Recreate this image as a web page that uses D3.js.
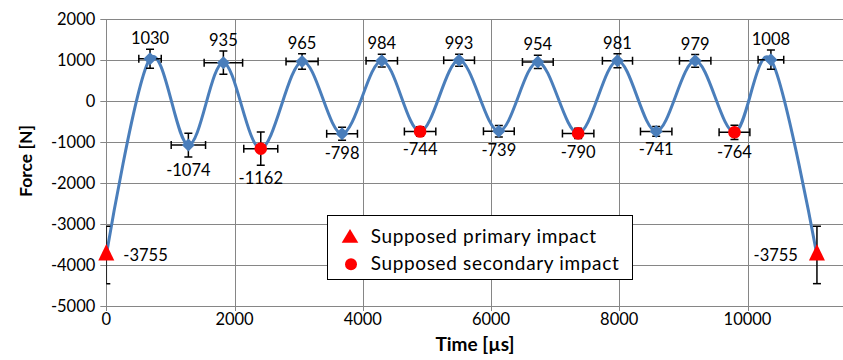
<!DOCTYPE html>
<html>
<head>
<meta charset="utf-8">
<script src="https://cdn.jsdelivr.net/npm/d3@7"></script>
<style>
  body { margin: 0; background: #fff; }
  svg text { font-family: Lato, "Open Sans", sans-serif; fill: #000; }
</style>
</head>
<body>
<svg id="chart" width="843" height="360"></svg>
<script>
// time of each peak / trough (µs) and measured force (N)
const times = [0, 682, 1280, 1826, 2409, 3053, 3677, 4296, 4894, 5502, 6122, 6730, 7359, 7972, 8576, 9184, 9797, 10365, 11083];
const forces = [-3755, 1030, -1074, 935, -1162, 965, -798, 984, -744, 993, -739, 954, -790, 981, -741, 979, -764, 1008, -3755];
const kinds = ["primary", "peak", "peak", "peak", "secondary", "peak", "peak", "peak", "secondary", "peak", "peak", "peak", "secondary", "peak", "peak", "peak", "secondary", "peak", "primary"];
const timeErr = [0, 175, 268, 300, 265, 250, 240, 245, 245, 240, 240, 240, 245, 235, 245, 245, 240, 200, 0];
const forceErr = [700, 230, 290, 285, 405, 190, 160, 155, 115, 145, 140, 160, 125, 170, 120, 155, 175, 235, 700];

const xTicks = [0, 2000, 4000, 6000, 8000, 10000];
const yTicks = [2000, 1000, 0, -1000, -2000, -3000, -4000, -5000];
const legendLabels = ["Supposed primary impact", "Supposed secondary impact"];

const blue = "#4a7ebb";
const red = "#ff0000";
const grid = "#868686";

var svg = d3.select("#chart");
var W = 843;
var plotLeft = 106.3, plotTop = 19, plotBottom = 306;

var x = d3.scaleLinear().domain([0, 12000]).range([plotLeft, plotLeft + 12 * 64.12]);
var y = d3.scaleLinear().domain([-5000, 2000]).range([plotBottom, plotTop]);

var points = times.map(function (t, i) {
  return { t: t, f: forces[i], kind: kinds[i], et: timeErr[i], ef: forceErr[i], i: i };
});

svg.append("defs").append("clipPath").attr("id", "plot")
  .append("rect").attr("x", plotLeft).attr("y", plotTop - 10)
  .attr("width", W - plotLeft).attr("height", plotBottom - plotTop + 20);

// gridlines
var g = svg.append("g");
g.selectAll("line.h").data(yTicks).enter().append("line")
  .attr("x1", plotLeft - 6).attr("x2", W)
  .attr("y1", function (d) { return Math.round(y(d)) + 0.5; })
  .attr("y2", function (d) { return Math.round(y(d)) + 0.5; })
  .attr("stroke", grid).attr("stroke-width", 1);
g.selectAll("line.v").data(xTicks).enter().append("line")
  .attr("y1", plotTop).attr("y2", plotBottom + 5)
  .attr("x1", function (d) { return Math.round(x(d)) + 0.5; })
  .attr("x2", function (d) { return Math.round(x(d)) + 0.5; })
  .attr("stroke", grid).attr("stroke-width", 1);

// tick labels
g.selectAll("text.y").data(yTicks).enter().append("text")
  .attr("x", plotLeft - 11).attr("y", function (d) { return y(d); })
  .attr("dy", "0.36em").attr("text-anchor", "end")
  .style("font-size", "16.5px")
  .text(function (d) { return d; });
g.selectAll("text.x").data(xTicks).enter().append("text")
  .attr("x", function (d) { return x(d); }).attr("y", 325)
  .attr("text-anchor", "middle")
  .style("font-size", "16.5px")
  .text(function (d) { return d; });

// axis titles
svg.append("text")
  .attr("transform", "translate(32,161) rotate(-90)")
  .attr("text-anchor", "middle")
  .style("font-size", "17.5px").style("font-weight", "bold")
  .text("Force [N]");
svg.append("text")
  .attr("x", 475).attr("y", 351)
  .attr("text-anchor", "middle")
  .style("font-size", "19px").style("font-weight", "bold")
  .text("Time [µs]");

// smoothed line
var line = d3.line()
  .x(function (d) { return x(d.t); })
  .y(function (d) { return y(d.f); })
  .curve(d3.curveCatmullRom.alpha(0));
svg.append("path").datum(points)
  .attr("d", line)
  .attr("fill", "none").attr("stroke", blue).attr("stroke-width", 3);

// error bars
var eb = svg.append("g").attr("clip-path", "url(#plot)")
  .attr("stroke", "#000").attr("stroke-width", 1.5);
var cap = 4;
points.forEach(function (d) {
  var cx = x(d.t), cy = y(d.f);
  if (d.ef) {
    var y1 = y(d.f + d.ef), y2 = y(d.f - d.ef);
    eb.append("line").attr("x1", cx).attr("x2", cx).attr("y1", y1).attr("y2", y2);
    eb.append("line").attr("x1", cx - cap).attr("x2", cx + cap).attr("y1", y1).attr("y2", y1);
    eb.append("line").attr("x1", cx - cap).attr("x2", cx + cap).attr("y1", y2).attr("y2", y2);
  }
  if (d.et) {
    var x1 = x(d.t - d.et), x2 = x(d.t + d.et);
    eb.append("line").attr("x1", x1).attr("x2", x2).attr("y1", cy).attr("y2", cy);
    eb.append("line").attr("x1", x1).attr("x2", x1).attr("y1", cy - cap).attr("y2", cy + cap);
    eb.append("line").attr("x1", x2).attr("x2", x2).attr("y1", cy - cap).attr("y2", cy + cap);
  }
});

// markers
var triPath = "M0,-11L8,5.5L-8,5.5Z";
var diamond = "M0,-6.5L6.5,0L0,6.5L-6.5,0Z";
svg.selectAll("path.mark").data(points).enter().append("path")
  .attr("class", "mark")
  .attr("transform", function (d) { return "translate(" + x(d.t) + "," + y(d.f) + ")"; })
  .attr("d", function (d) {
    if (d.kind == "primary") return triPath;
    if (d.kind == "secondary") return d3.symbol(d3.symbolCircle, Math.PI * 6.3 * 6.3)();
    return diamond;
  })
  .attr("fill", function (d) { return d.kind == "peak" ? blue : red; });

// data labels
svg.selectAll("text.lbl").data(points).enter().append("text")
  .style("font-size", "16.5px")
  .attr("text-anchor", function (d) {
    if (d.kind == "primary") return d.i == 0 ? "start" : "end";
    return "middle";
  })
  .attr("x", function (d) {
    if (d.kind == "primary") return d.i == 0 ? x(d.t) + 17 : x(d.t) - 19;
    return x(d.t);
  })
  .attr("y", function (d) {
    if (d.kind == "primary") return y(d.f) + 6;
    if (d.f > 0) return y(d.f + d.ef) - 5;
    return y(d.f - d.ef) + 19;
  })
  .text(function (d) { return d.f; });

// legend
var lg = svg.append("g");
lg.append("rect").attr("x", 327.5).attr("y", 215.5).attr("width", 305).attr("height", 64)
  .attr("fill", "#fff").attr("stroke", "#000").attr("stroke-width", 1);
lg.append("path").attr("d", "M0,-7L8.3,6.7L-8.3,6.7Z")
  .attr("transform", "translate(350,236)").attr("fill", red);
lg.append("circle").attr("cx", 351).attr("cy", 264.3).attr("r", 6).attr("fill", red);
lg.selectAll("text").data(legendLabels).enter().append("text")
  .attr("x", 370.7).attr("y", function (d, i) { return i == 0 ? 242.7 : 270; })
  .style("font-size", "19px").style("letter-spacing", "0.65px")
  .text(function (d) { return d; });
</script>
</body>
</html>
